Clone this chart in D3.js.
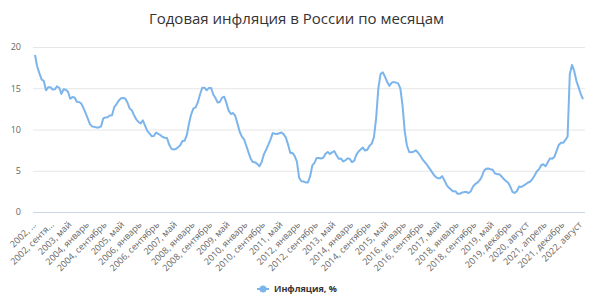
<!DOCTYPE html>
<html>
<head>
<meta charset="utf-8">
<script src="https://cdn.jsdelivr.net/npm/d3@7"></script>
<style>
  body { margin: 0; background: #fff; }
  svg { font-family: "Open Sans", sans-serif; }
</style>
</head>
<body>
<svg id="chart" width="601" height="298"></svg>
<script>
const SVG_WIDTH = 601;
const SVG_HEIGHT = 298;
const PLOT = { left: 33, right: 585, top: 47, bottom: 212 };
const LINE_COLOR = "#7cb5ec";

const MONTHS = ["январь", "февраль", "март", "апрель", "май", "июнь",
  "июль", "август", "сентябрь", "октябрь", "ноябрь", "декабрь"];
// the source repeats one month in 2019
const MONTHS_2019 = ["январь", "февраль", "март", "апрель", "май", "июнь",
  "июль", "июль", "август", "сентябрь", "октябрь", "ноябрь", "декабрь"];
const YEARS = [2002, 2003, 2004, 2005, 2006, 2007, 2008, 2009, 2010, 2011, 2012,
  2013, 2014, 2015, 2016, 2017, 2018, 2019, 2020, 2021, 2022];

const inflation2002 = [19.03, 17.63, 16.8, 16.07, 15.87, 14.75, 15.11, 15.13, 14.85, 14.87, 15.24, 15.06];
const inflation2003 = [14.31, 14.88, 14.81, 14.57, 13.73, 13.93, 13.88, 13.36, 13.34, 13.15, 12.62, 11.99];
const inflation2004 = [11.32, 10.62, 10.37, 10.32, 10.24, 10.25, 10.37, 11.34, 11.45, 11.48, 11.69, 11.74];
const inflation2005 = [12.71, 13.05, 13.49, 13.78, 13.81, 13.76, 13.27, 12.55, 12.34, 11.73, 11.24, 10.91];
const inflation2006 = [10.74, 11.12, 10.47, 9.84, 9.54, 9.19, 9.22, 9.62, 9.46, 9.31, 9.09, 9.0];
const inflation2007 = [8.96, 8.14, 7.65, 7.57, 7.63, 7.86, 8.09, 8.61, 8.65, 9.35, 10.76, 11.87];
const inflation2008 = [12.56, 12.69, 13.31, 14.27, 15.06, 15.07, 14.75, 15.04, 15.04, 14.24, 13.82, 13.28];
const inflation2009 = [13.35, 13.86, 13.97, 13.2, 12.29, 11.88, 12.0, 11.64, 10.71, 9.73, 9.14, 8.8];
const inflation2010 = [8.03, 7.22, 6.46, 6.05, 6.02, 5.84, 5.54, 6.05, 6.99, 7.54, 8.13, 8.78];
const inflation2011 = [9.56, 9.48, 9.45, 9.55, 9.64, 9.41, 9.01, 8.17, 7.16, 7.17, 6.78, 6.1];
const inflation2012 = [4.16, 3.72, 3.7, 3.59, 3.59, 4.31, 5.64, 5.95, 6.55, 6.54, 6.49, 6.58];
const inflation2013 = [7.07, 7.28, 7.02, 7.23, 7.38, 6.88, 6.45, 6.49, 6.13, 6.25, 6.5, 6.45];
const inflation2014 = [6.05, 6.19, 6.92, 7.33, 7.59, 7.8, 7.45, 7.55, 8.03, 8.29, 9.06, 11.36];
const inflation2015 = [14.97, 16.71, 16.93, 16.42, 15.78, 15.29, 15.64, 15.77, 15.68, 15.59, 14.98, 12.91];
const inflation2016 = [9.77, 8.06, 7.27, 7.25, 7.31, 7.48, 7.21, 6.85, 6.42, 6.09, 5.76, 5.38];
const inflation2017 = [4.98, 4.59, 4.25, 4.09, 4.09, 4.35, 3.86, 3.28, 2.96, 2.72, 2.5, 2.52];
const inflation2018 = [2.21, 2.2, 2.36, 2.41, 2.42, 2.3, 2.49, 3.07, 3.39, 3.55, 3.83, 4.27];
const inflation2019 = [5.0, 5.24, 5.27, 5.17, 5.13, 4.66, 4.59, 4.59, 4.31, 3.99, 3.75, 3.54, 3.05];
const inflation2020 = [2.42, 2.31, 2.54, 3.09, 3.03, 3.21, 3.37, 3.57, 3.67, 3.99, 4.42, 4.91];
const inflation2021 = [5.19, 5.67, 5.79, 5.53, 6.02, 6.5, 6.46, 6.68, 7.41, 8.13, 8.4, 8.39];
const inflation2022 = [8.73, 9.15, 16.69, 17.83, 17.1, 15.9, 15.1, 14.3, 13.68];

const Y_TICKS = [0, 5, 10, 15, 20];
const LABEL_STEP = 8;

const yearly = [inflation2002, inflation2003, inflation2004, inflation2005, inflation2006,
  inflation2007, inflation2008, inflation2009, inflation2010, inflation2011, inflation2012,
  inflation2013, inflation2014, inflation2015, inflation2016, inflation2017, inflation2018,
  inflation2019, inflation2020, inflation2021, inflation2022];

let data = [];
YEARS.forEach((year, i) => {
  const months = year === 2019 ? MONTHS_2019 : MONTHS;
  yearly[i].forEach((v, m) => {
    data.push({ idx: data.length, label: `${year}, ${months[m]}`, value: v });
  });
});

const svg = d3.select("#chart");

const x_scale = d3.scalePoint()
  .domain(data.map((d) => d.idx))
  .range([35, 583]);
const y_scale = d3.scaleLinear().domain([0, 20]).range([PLOT.bottom, PLOT.top]);

// title
svg.append("text")
  .attr("x", SVG_WIDTH / 2 - 4)
  .attr("y", 24)
  .attr("text-anchor", "middle")
  .style("font-size", "15px")
  .style("fill", "#333")
  .text("Годовая инфляция в России по месяцам");

// y axis + grid
const y_axis = svg.append("g")
  .attr("transform", `translate(${PLOT.left}, 0)`)
  .call(d3.axisLeft(y_scale)
    .tickValues(Y_TICKS)
    .tickSize(-(PLOT.right - PLOT.left))
    .tickPadding(12));
y_axis.select(".domain").remove();
y_axis.selectAll("line").attr("stroke", "#e6e6e6");
y_axis.selectAll("text")
  .style("font-size", "9px")
  .style("fill", "#666")
  .style("font-family", "\"Open Sans\", sans-serif");

// x axis line
svg.append("line")
  .attr("x1", PLOT.left)
  .attr("x2", PLOT.right)
  .attr("y1", PLOT.bottom + 0.5)
  .attr("y2", PLOT.bottom + 0.5)
  .attr("stroke", "#ccd6eb");

const x_axis = svg.append("g")
  .attr("transform", `translate(0, ${PLOT.bottom})`)
  .call(d3.axisBottom(x_scale)
    .tickValues(data.filter((d) => d.idx % LABEL_STEP === 0).map((d) => d.idx))
    .tickFormat((i) => data[i].label)
    .tickSize(0));
x_axis.select(".domain").remove();
x_axis.selectAll("text")
  .attr("x", 0)
  .attr("y", 0)
  .attr("dy", "0.35em")
  .attr("text-anchor", "end")
  .attr("transform", "translate(-1, 11) rotate(-45)")
  .style("font-size", "9px")
  .style("fill", "#666")
  .style("font-family", "\"Open Sans\", sans-serif")
  .each(function (i) {
    // shorten labels that would run past the left edge
    const el = d3.select(this);
    const allowed = (x_scale(i) - 10) / Math.SQRT1_2;
    let full = data[i].label;
    if (this.getComputedTextLength() <= allowed) return;
    while (full.length > 0) {
      full = full.slice(0, -1);
      el.text(full + "...");
      if (this.getComputedTextLength() <= allowed) break;
    }
  });

// line
svg.append("path")
  .datum(data)
  .attr("fill", "none")
  .attr("stroke", LINE_COLOR)
  .attr("stroke-width", 2)
  .attr("stroke-linejoin", "round")
  .attr("d", d3.line()
    .x((d) => x_scale(d.idx))
    .y((d) => y_scale(d.value)));

// legend
const legend = svg.append("g").attr("transform", "translate(257, 289)");
legend.append("line")
  .attr("x1", 0).attr("x2", 12)
  .attr("stroke", LINE_COLOR)
  .attr("stroke-width", 2);
legend.append("circle")
  .attr("cx", 6).attr("r", 3.5)
  .attr("fill", LINE_COLOR);
legend.append("text")
  .attr("x", 17)
  .attr("dy", "0.35em")
  .style("font-size", "9px")
  .style("font-weight", "bold")
  .style("fill", "#333")
  .text("Инфляция, %");
</script>
</body>
</html>
